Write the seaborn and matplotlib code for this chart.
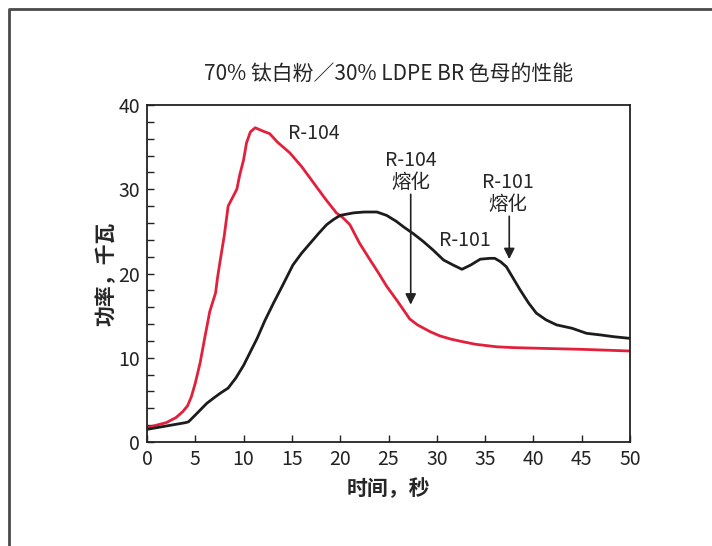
import matplotlib
matplotlib.use("Agg")
import matplotlib.pyplot as plt
from matplotlib.lines import Line2D
import pandas as pd
import seaborn as sns

# ---- data ----
red_t = [0, 1, 2, 3, 3.7, 4.2, 4.6, 5.0, 5.5, 6.0, 6.5, 7.1, 7.3, 7.6, 8.0, 8.4,
         9.3, 9.6, 10.0, 10.3, 10.7, 11.2, 12.0, 12.7, 13.5, 14.8, 16.0, 16.9,
         17.6, 18.5, 19.6, 20.3, 21.0, 22.0, 23.1, 24.0, 24.8, 26.0, 27.2, 28.0,
         29.3, 30.3, 31.5, 32.7, 34.0, 36.2, 38.0, 41.4, 45.0, 50.0]
red_kw = [1.7, 2.0, 2.3, 2.9, 3.6, 4.3, 5.4, 7.0, 9.4, 12.5, 15.5, 17.7, 19.5,
          21.7, 24.5, 28.0, 30.0, 31.7, 33.5, 35.5, 36.8, 37.3, 36.9, 36.6, 35.6,
          34.3, 32.7, 31.3, 30.2, 28.8, 27.2, 26.6, 25.8, 23.6, 21.6, 20.0, 18.5,
          16.6, 14.6, 13.9, 13.1, 12.6, 12.2, 11.9, 11.6, 11.3, 11.2, 11.1, 11.0,
          10.8]

black_t = [0, 1, 2, 3, 4, 4.3, 5.0, 6.2, 7.0, 7.6, 8.4, 9.2, 10.0, 11.4, 12.2,
           13.1, 14.0, 15.1, 16.0, 16.9, 17.8, 18.6, 19.3, 20.0, 21.4, 22.5, 23.8,
           24.8, 25.8, 26.6, 27.6, 28.6, 29.6, 30.7, 31.7, 32.6, 33.5, 34.5, 35.5,
           36.0, 36.6, 37.2, 38.6, 39.5, 40.3, 41.3, 42.4, 44.0, 45.5, 47.0, 48.3,
           50.0]
black_kw = [1.5, 1.7, 1.9, 2.1, 2.3, 2.4, 3.2, 4.6, 5.3, 5.8, 6.4, 7.6, 9.1, 12.3,
            14.4, 16.5, 18.5, 21.0, 22.4, 23.6, 24.8, 25.8, 26.4, 26.9, 27.2, 27.3,
            27.3, 26.9, 26.2, 25.5, 24.7, 23.8, 22.8, 21.6, 21.0, 20.5, 21.0, 21.7,
            21.8, 21.8, 21.4, 20.8, 18.1, 16.5, 15.3, 14.5, 13.9, 13.5, 12.9, 12.7,
            12.5, 12.3]

title = "70% 钛白粉／30% LDPE BR 色母的性能"
xlabel = "时间，秒"
ylabel = "功率，千瓦"

####figure settings####
sns.set_style("ticks")
fam = ["Noto Sans CJK SC", "DejaVu Sans"]
plt.rcParams["font.family"] = fam
plt.rcParams["axes.linewidth"] = 1.3
plt.rcParams["xtick.direction"] = "in"
plt.rcParams["ytick.direction"] = "in"

df = pd.concat([
    pd.DataFrame({"t": red_t, "kw": red_kw, "s": "R-104"}),
    pd.DataFrame({"t": black_t, "kw": black_kw, "s": "R-101"}),
])

fig = plt.figure(figsize=(7.12, 5.46), dpi=100)
ax = fig.add_axes([147/712, 1-442/546, (630-147)/712, (442-105)/546])

sns.lineplot(data=df, x="t", y="kw", hue="s", palette={"R-104": "#e3203b", "R-101": "#1c1c1c"},
             linewidth=2.0, legend=False, sort=False, ax=ax)

for s in ["top", "right", "left", "bottom"]:
    ax.spines[s].set_visible(True)
    ax.spines[s].set_color("#222222")

ax.set_xlim(0, 50)
ax.set_ylim(0, 40)
ax.set_xticks(range(0, 51, 5))
ax.set_yticks(range(0, 41, 10))
ax.set_yticks(range(0, 41, 2), minor=True)
ax.tick_params(axis="both", which="both", length=5, width=1.0, labelsize=14,
               colors="#222222", pad=5)
ax.tick_params(axis="x", which="minor", length=0)

ax.set_xlabel(xlabel, fontsize=15, fontweight="bold", labelpad=6)
ax.set_ylabel(ylabel, fontsize=15, fontweight="bold", labelpad=1)
ax.set_title(title, fontsize=15, pad=18)

# annotations
ax.text(17.3, 36.6, "R-104", fontsize=14, ha="center", va="center")
ax.text(32.9, 23.9, "R-101", fontsize=14, ha="center", va="center")
ax.text(27.3, 32.1, "R-104\n熔化", fontsize=14, ha="center", va="center", linespacing=1.1)
ax.text(37.4, 29.5, "R-101\n熔化", fontsize=14, ha="center", va="center", linespacing=1.1)
arrow = dict(arrowstyle="-|>", color="#222222", lw=1.2, mutation_scale=16,
             shrinkA=0, shrinkB=0)
ax.annotate("", xy=(27.3, 16.3), xytext=(27.3, 29.4), arrowprops=arrow)
ax.annotate("", xy=(37.5, 21.7), xytext=(37.5, 26.8), arrowprops=arrow)

# outer frame of the figure panel
x0 = 8.7/712
y0 = 1 - 9/546
fig.add_artist(Line2D([x0, x0, 1.0], [0.0, y0, y0], transform=fig.transFigure,
                      color="#4a4a4a", lw=2.0))

plt.savefig("out.png", dpi=100)
